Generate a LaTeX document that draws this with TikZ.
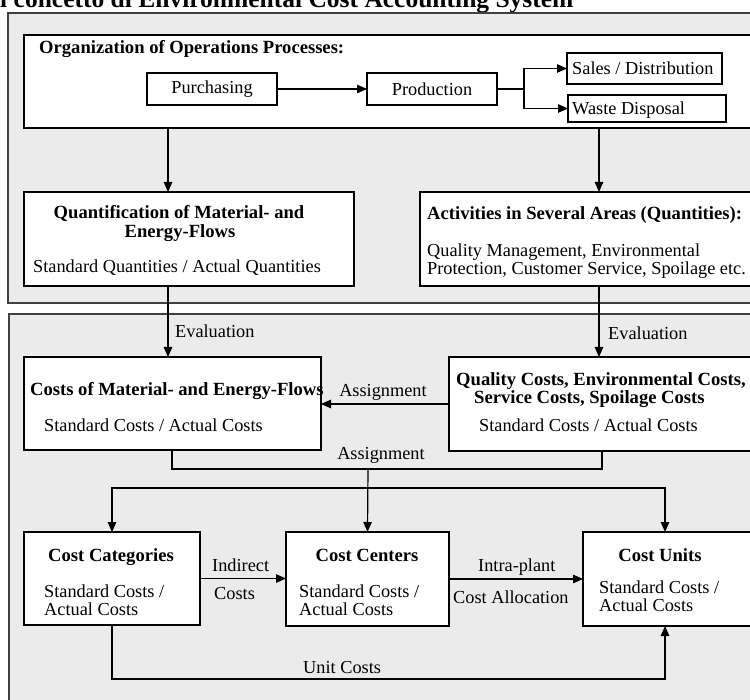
\documentclass[tikz,border=0pt]{standalone}
\usepackage{fontspec}
\setmainfont{Liberation Serif}
\usetikzlibrary{arrows.meta}
\begin{document}
\begin{tikzpicture}[x=1pt,y=-1pt,
  panel/.style={draw=black!75,line width=1.8pt,fill=black!8,inner sep=0pt,outer sep=0pt,anchor=north west},
  box/.style={draw=black,line width=1.2pt,fill=white,inner sep=0pt,outer sep=0pt,anchor=north west},
  conn/.style={draw=black,line width=1.2pt},
  arr/.style={conn,-{Triangle[length=10pt,width=8.5pt]}},
  txt/.style={inner sep=0pt,anchor=base west,font=\fontsize{18.3}{18.3}\selectfont},
  btxt/.style={inner sep=0pt,anchor=base west,font=\fontsize{18.6}{18.6}\selectfont\bfseries},
  ctxt/.style={btxt,anchor=base},
  lbl/.style={txt}]
\useasboundingbox (0,0) rectangle (750,700);
\clip (0,0) rectangle (750,700);

% title line
\node[inner sep=0pt,anchor=base west,font=\fontsize{25.5}{25.5}\selectfont\bfseries] (title) at (-9.9,8) {Il concetto di Environmental Cost Accounting System};

% the two grey panels
\node[panel,minimum width=762,minimum height=290] (toppanel) at (8,13) {};
\node[panel,minimum width=761,minimum height=406] (lowpanel) at (9,314) {};

% operations processes
\node[box,minimum width=746,minimum height=93] (org) at (24,35) {};
\node[btxt] (orgT) at (39,54) {Organization of Operations Processes:};
\node[box,minimum width=130,minimum height=32] (purch) at (147,73) {};
\node[txt,anchor=center] (purchT) at (purch.center) {Purchasing};
\node[box,minimum width=130,minimum height=32] (prod) at (367,73) {};
\node[txt,anchor=center] (prodT) at (prod.center) {Production};
\node[box,minimum width=155,minimum height=31] (sales) at (567,53) {};
\node[txt] (salesT) at (572,75) {Sales / Distribution};
\node[box,minimum width=158,minimum height=27] (waste) at (568,95) {};
\node[txt] (wasteT) at (572,115) {Waste Disposal};
\coordinate (br) at (524,89);

% quantities
\node[box,minimum width=330,minimum height=94] (quant) at (24,192) {};
\node[ctxt] (quantA) at (179,219) {Quantification of Material- and};
\node[ctxt] (quantB) at (180,238) {Energy-Flows};
\node[txt] (quantC) at (33,273) {Standard Quantities / Actual Quantities};
\node[box,minimum width=350,minimum height=94] (activ) at (420,192) {};
\node[btxt] (activA) at (427,220) {Activities in Several Areas (Quantities):};
\node[txt] (activB) at (427,257) {Quality Management, Environmental};
\node[txt] (activC) at (427,275) {Protection, Customer Service, Spoilage etc.};

% costs
\node[box,minimum width=297,minimum height=93] (costmat) at (24,357) {};
\node[btxt] (costmatA) at (30,396) {Costs of Material- and Energy-Flows};
\node[txt] (costmatB) at (44,432) {Standard Costs / Actual Costs};
\node[box,minimum width=321,minimum height=94] (qual) at (449,357) {};
\node[btxt] (qualA) at (456,386) {Quality Costs, Environmental Costs,};
\node[btxt] (qualB) at (474,404) {Service Costs, Spoilage Costs};
\node[txt] (qualC) at (479,432) {Standard Costs / Actual Costs};

% cost accounting objects
\node[box,minimum width=176,minimum height=93] (cat) at (24,532) {};
\node[ctxt] (catA) at (111,561) {Cost Categories};
\node[txt] (catB) at (44,597) {Standard Costs /};
\node[txt] (catC) at (44,615) {Actual Costs};
\node[box,minimum width=163,minimum height=94] (cen) at (286,532) {};
\node[ctxt] (cenA) at (367,561) {Cost Centers};
\node[txt] (cenB) at (299,597) {Standard Costs /};
\node[txt] (cenC) at (299,615) {Actual Costs};
\node[box,minimum width=187,minimum height=94] (units) at (583,532) {};
\node[ctxt] (unitsA) at (660,561) {Cost Units};
\node[txt] (unitsB) at (599,593) {Standard Costs /};
\node[txt] (unitsC) at (599,611) {Actual Costs};

% lanes and junctions
\coordinate (laneL) at (168,0);
\coordinate (laneR) at (599,0);
\coordinate (laneA) at (0,404);
\coordinate (mL) at (172,0);
\coordinate (mR) at (602,0);
\coordinate (merge) at (368,469);
\coordinate (dist) at (368,488);
\coordinate (laneU) at (665,0);
\coordinate (uc) at (0,679);

% connectors
\draw[arr] (purch) -- (prod);
\draw[conn] (prod.east) -- (br);
\draw[arr] (br) |- (sales.west);
\draw[arr] (br) |- (waste.west);
\draw[arr] (laneL |- org.south) -- (laneL |- quant.north);
\draw[arr] (laneR |- org.south) -- (laneR |- activ.north);
\draw[arr] (laneL |- quant.south) -- (laneL |- costmat.north);
\draw[arr] (laneR |- activ.south) -- (laneR |- qual.north);
\draw[arr] (laneA -| qual.west) -- (laneA -| costmat.east);
\draw[conn] (mL |- costmat.south) |- (merge) -| (mR |- qual.south);
\draw[arr] (merge) -- (cen.north);
\draw[arr] (dist) -| (cat.north);
\draw[arr] (dist) -| (laneU |- units.north);
\draw[arr] (cat.east) -- (cat.east -| cen.west);
\draw[arr] (cen.east) -- (cen.east -| units.west);
\draw[arr] (cat.south) -- (cat.south |- uc) -- (laneU |- uc) -- (laneU |- units.south);

% connector labels
\node[lbl] (ev1) at (175,338) {Evaluation};
\node[lbl] (ev2) at (608,340) {Evaluation};
\node[lbl,anchor=base] (as1) at (383,397) {Assignment};
\node[lbl,anchor=base] (as2) at (381,460) {Assignment};
\node[lbl] (ind1) at (212,571) {Indirect};
\node[lbl] (ind2) at (214,599) {Costs};
\node[lbl] (ip1) at (478,571) {Intra-plant};
\node[lbl] (ip2) at (453,603) {Cost Allocation};
\node[lbl] (uclbl) at (303,673) {Unit Costs};
\end{tikzpicture}
\end{document}
